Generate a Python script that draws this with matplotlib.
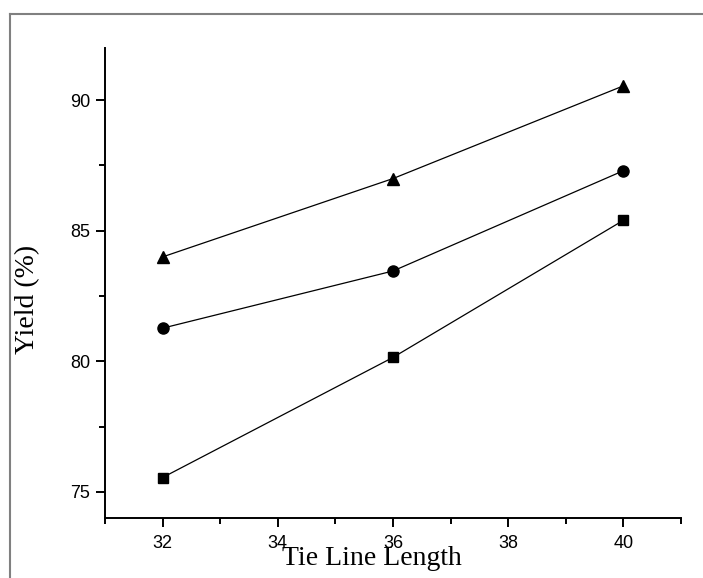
import numpy as np
import matplotlib
matplotlib.use("Agg")
import matplotlib.pyplot as plt
from matplotlib.lines import Line2D
from matplotlib.ticker import MultipleLocator

# data
tie_line = [32, 36, 40]
yield_tri = [84.0, 87.0, 90.55]
yield_circ = [81.27, 83.46, 87.3]
yield_sq = [75.55, 80.15, 85.4]

W, H = 703, 578
fig = plt.figure(figsize=(W / 100, H / 100), dpi=100)

# gray frame (top and left only)
fig.add_artist(Line2D([10 / W, 1], [1 - 14 / H, 1 - 14 / H], transform=fig.transFigure, color='#808080', lw=1.5))
fig.add_artist(Line2D([10 / W, 10 / W], [0, 1 - 14 / H], transform=fig.transFigure, color='#808080', lw=1.5))

ax = fig.add_axes([105 / W, 60 / H, 576 / W, 470 / H])

ax.plot(tie_line, yield_tri, color='black', lw=0.9, marker='^', ms=9, mfc='black', mec='black')
ax.plot(tie_line, yield_circ, color='black', lw=0.9, marker='o', ms=8, mfc='black', mec='black')
ax.plot(tie_line, yield_sq, color='black', lw=0.9, marker='s', ms=6.5, mfc='black', mec='black')

ax.set_xlim(31, 41)
ax.set_ylim(74, 92)
ax.xaxis.set_major_locator(MultipleLocator(2))
ax.xaxis.set_minor_locator(MultipleLocator(1))
ax.yaxis.set_major_locator(MultipleLocator(5))
ax.yaxis.set_minor_locator(MultipleLocator(2.5))
ax.set_yticks([75, 80, 85, 90])

for s in ['top', 'right']:
    ax.spines[s].set_visible(False)
for s in ['left', 'bottom']:
    ax.spines[s].set_linewidth(1.4)

ax.tick_params(which='major', direction='out', length=6.5, width=1.4, labelsize=13, pad=4)
ax.tick_params(which='minor', direction='out', length=4, width=1.4)
ax.tick_params(axis='x', which='major', pad=6)
for lab in ax.get_xticklabels() + ax.get_yticklabels():
    lab.set_fontfamily('Liberation Sans')

# x label sits low, partly over the tick labels as in the original
ax.set_xlabel('Tie Line Length', fontfamily='Liberation Serif', fontsize=20)
ax.xaxis.label.set_va('baseline')
ax.xaxis.set_label_coords(0.4635, -0.1)
ax.set_ylabel('Yield (%)', fontfamily='Liberation Serif', fontsize=20)
ax.yaxis.label.set_va('center')
ax.yaxis.set_label_coords(-0.134, 0.466)

fig.savefig('out.png', dpi=100)
